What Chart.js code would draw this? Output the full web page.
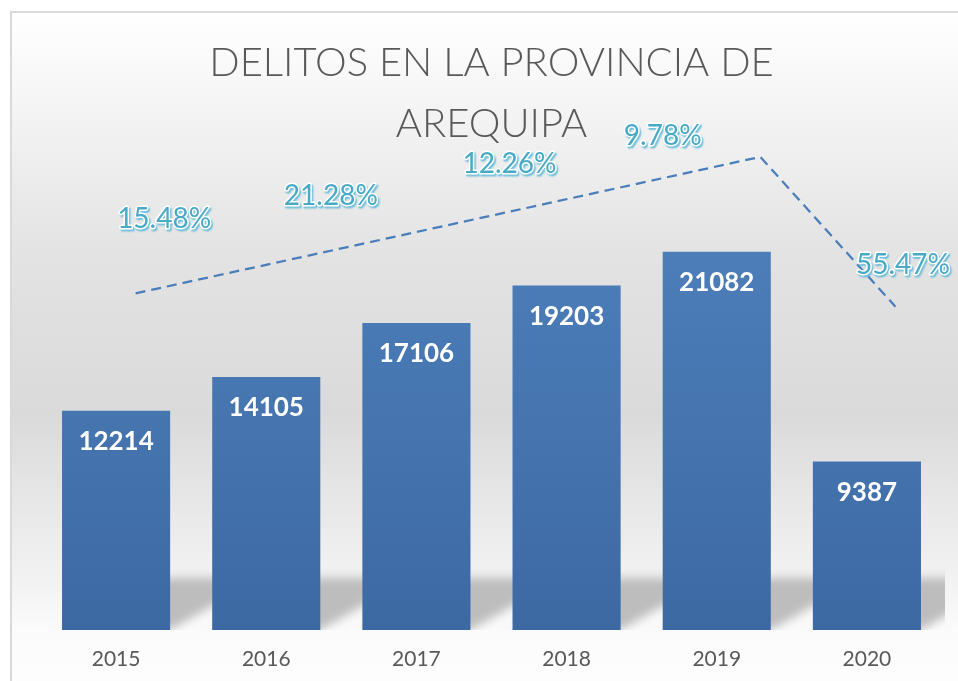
<!DOCTYPE html>
<html>
<head>
<meta charset="utf-8">
<script src="https://cdn.jsdelivr.net/npm/chart.js@4/dist/chart.umd.min.js"></script>
<style>
    html, body { margin: 0; padding: 0; background: #fff; }
    #wrap { width: 958px; height: 681px; }
</style>
</head>
<body>
<div id="wrap"><canvas id="delitosChart" width="958" height="681"></canvas></div>
<script>
// data
const years = ["2015", "2016", "2017", "2018", "2019", "2020"];
const crimes = [12214, 14105, 17106, 19203, 21082, 9387];

// growth labels between years, and where they sit (hidden 0-100 axes)
const growthLabels = ["15.48%", "21.28%", "12.26%", "9.78%", "55.47%"];
const growthX = [0.32, 1.43, 2.62, 3.64, 5.24];
const growthY = [86.4, 91.3, 98.0, 103.9, 76.8];

// dashed trend line
const trendX = [0.13, 4.29, 5.19];
const trendY = [70.8, 99.5, 68.0];

const titleLines = ["DELITOS EN LA PROVINCIA DE", "AREQUIPA"];


const backgroundPlugin = {
    id: "background",
    beforeDraw(chart) {
        const ctx = chart.ctx;
        const w = chart.width, h = chart.height;
        ctx.save();
        ctx.fillStyle = "#ffffff";
        ctx.fillRect(0, 0, w, h);

        const grad = ctx.createLinearGradient(0, 13, 0, h);
        grad.addColorStop(0, "#ffffff");
        grad.addColorStop(0.12, "#f6f6f6");
        grad.addColorStop(0.36, "#e3e3e3");
        grad.addColorStop(0.6, "#dadada");
        grad.addColorStop(0.78, "#ececec");
        grad.addColorStop(0.86, "#f3f3f3");
        grad.addColorStop(0.925, "#fbfbfb");
        grad.addColorStop(1, "#fdfdfd");
        ctx.fillStyle = grad;
        ctx.fillRect(12, 13, w - 12, h - 13);

        ctx.strokeStyle = "#d9d9d9";
        ctx.lineWidth = 2;
        ctx.beginPath();
        ctx.moveTo(11, h);
        ctx.lineTo(11, 12);
        ctx.lineTo(w, 12);
        ctx.stroke();

        // soft shadows cast by the bars
        const area = chart.chartArea;
        const meta = chart.getDatasetMeta(1);
        ctx.beginPath();
        ctx.rect(12, area.bottom - 70, 945 - 12, 70);
        ctx.clip();
        ctx.filter = "blur(5px)";
        ctx.fillStyle = "rgba(185,185,185,0.95)";
        meta.data.forEach(bar => {
            const left = bar.x - bar.width / 2;
            const right = bar.x + bar.width / 2;
            const top = area.bottom - 52;
            ctx.beginPath();
            ctx.moveTo(left, area.bottom);
            ctx.lineTo(left + 90, top);
            ctx.lineTo(right + 90, top);
            ctx.lineTo(right, area.bottom);
            ctx.closePath();
            ctx.fill();
        });
        ctx.restore();
    }
};

const labelPlugin = {
    id: "valueLabels",
    afterDatasetsDraw(chart) {
        const ctx = chart.ctx;
        ctx.save();
        ctx.textAlign = "center";
        ctx.textBaseline = "middle";

        // values inside the bars
        ctx.font = "bold 26px Lato";
        ctx.fillStyle = "#ffffff";
        chart.getDatasetMeta(1).data.forEach((bar, i) => {
            ctx.fillText(String(crimes[i]), bar.x, bar.y + 31);
        });

        // growth percentages
        const sx = chart.scales.x2;
        const sy = chart.scales.y2;
        ctx.font = "28px Lato";
        ctx.lineJoin = "round";
        growthLabels.forEach((txt, i) => {
            const px = sx.getPixelForValue(growthX[i]);
            const py = sy.getPixelForValue(growthY[i]);
            ctx.shadowColor = "rgba(110,190,218,0.95)";
            ctx.shadowOffsetX = 1.5;
            ctx.shadowOffsetY = 2;
            ctx.shadowBlur = 1.5;
            ctx.strokeStyle = "#ffffff";
            ctx.lineWidth = 3;
            ctx.strokeText(txt, px, py);
            ctx.shadowColor = "transparent";
            ctx.fillStyle = "#4aaac6";
            ctx.fillText(txt, px, py);
        });
        ctx.restore();
    }
};


const ctx = document.getElementById("delitosChart").getContext("2d");

new Chart(ctx, {
    type: "bar",
    data: {
        labels: years,
        datasets: [
            {
                type: "line",
                data: trendX.map((x, i) => ({ x: x, y: trendY[i] })),
                xAxisID: "x2",
                yAxisID: "y2",
                borderColor: "#4a7ebb",
                borderWidth: 2.25,
                borderDash: [10, 6],
                pointRadius: 0,
                fill: false,
                clip: false,
                order: 0
            },
            {
                label: "Delitos",
                data: crimes,
                xAxisID: "x",
                yAxisID: "y",
                backgroundColor: (c) => {
                    const area = c.chart.chartArea;
                    if (!area) return "#4a7bb7";
                    const g = c.chart.ctx.createLinearGradient(0, area.top, 0, area.bottom);
                    g.addColorStop(0, "#5083be");
                    g.addColorStop(1, "#3d69a3");
                    return g;
                },
                grouped: false,
                categoryPercentage: 1,
                barPercentage: 0.72,
                order: 1
            }
        ]
    },
    options: {
        responsive: false,
        animation: false,
        layout: {
            padding: { left: 41, right: 16, top: 0, bottom: 0 }
        },
        plugins: {
            legend: { display: false },
            tooltip: { enabled: false },
            title: {
                display: true,
                text: titleLines,
                color: "#595959",
                font: { family: "Lato", size: 40, weight: "300", lineHeight: 1.525 },
                padding: { top: 32.5, bottom: 0 }
            }
        },
        scales: {
            x: {
                type: "category",
                offset: true,
                grid: { display: false, drawTicks: false },
                border: { display: false },
                ticks: {
                    color: "#595959",
                    padding: 17,
                    font: { family: "Lato", size: 21 }
                },
                afterFit: (scale) => { scale.height = 51; }
            },
            y: {
                display: false,
                min: 0,
                max: 26500
            },
            x2: {
                type: "linear",
                display: false,
                offset: false,
                min: -0.5,
                max: 5.5
            },
            y2: {
                type: "linear",
                display: false,
                min: 0,
                max: 100
            }
        }
    },
    plugins: [backgroundPlugin, labelPlugin]
});
</script>
</body>
</html>
